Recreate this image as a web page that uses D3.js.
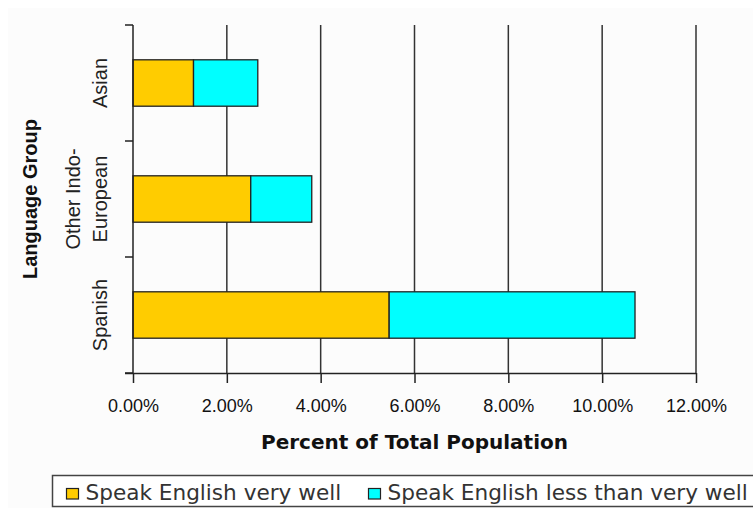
<!DOCTYPE html>
<html>
<head>
<meta charset="utf-8">
<script src="https://cdn.jsdelivr.net/npm/d3@7"></script>
<style>
  html, body { margin: 0; padding: 0; background: #fff; }
  svg { display: block; }
</style>
</head>
<body>
<div id="chart"></div>
<script>
const categories = ["Asian", "Other Indo-European", "Spanish"];
const categoryLines = [["Asian"], ["Other Indo-", "European"], ["Spanish"]];
const seriesNames = ["Speak English very well", "Speak English less than very well"];
const veryWell = [0.0129, 0.0251, 0.0546];
const lessThanVeryWell = [0.0137, 0.0130, 0.0524];
const xTicks = [0, 0.02, 0.04, 0.06, 0.08, 0.10, 0.12];
const colors = ["#ffcc00", "#00ffff"];

const width = 753, height = 508;
const margin = { top: 25, right: 57, bottom: 135, left: 133 };
const innerW = width - margin.left - margin.right;
const innerH = height - margin.top - margin.bottom;
const sansFont = '"DejaVu Sans", Verdana, sans-serif';
const arialFont = 'Arial, "Liberation Sans", sans-serif';

const svg = d3.select('#chart').append('svg')
  .attr('width', width).attr('height', height);

svg.append('rect').attr('x', 8).attr('y', 8)
  .attr('width', width - 8).attr('height', height - 8).attr('fill', '#fcfcfc');

const g = svg.append('g').attr('transform', `translate(${margin.left},${margin.top})`);

const x = d3.scaleLinear().domain([0, 0.12]).range([0, innerW]);
const y = d3.scaleBand().domain(categories).range([0, innerH])
  .paddingInner(0.6).paddingOuter(0.3);

const rows = categories.map((c, i) => ({ cat: c, vals: [veryWell[i], lessThanVeryWell[i]] }));
const stack = d3.stack().keys([0, 1]).value((d, k) => d.vals[k]);
const layers = stack(rows);

// gridlines
g.append('g').selectAll('line').data(xTicks.slice(1)).join('line')
  .attr('x1', d => x(d)).attr('x2', d => x(d))
  .attr('y1', 0).attr('y2', innerH)
  .attr('stroke', '#333').attr('stroke-width', 1.5);

// bars
g.append('g').selectAll('g').data(layers).join('g')
  .attr('fill', (d, i) => colors[i])
  .selectAll('rect').data(d => d).join('rect')
  .attr('x', d => x(d[0]))
  .attr('width', d => x(d[1]) - x(d[0]))
  .attr('y', d => y(d.data.cat))
  .attr('height', y.bandwidth())
  .attr('stroke', '#222').attr('stroke-width', 1.3);

// x axis
const xAxis = g.append('g').attr('transform', `translate(0,${innerH})`)
  .call(d3.axisBottom(x).tickValues(xTicks).tickFormat(d3.format('.2%'))
    .tickSize(10).tickSizeOuter(0).tickPadding(16));
xAxis.select('.domain').attr('stroke', '#222').attr('stroke-width', 1.5)
  .attr('d', `M-8,0.5H${innerW}`);
xAxis.selectAll('.tick line').attr('stroke', '#222').attr('stroke-width', 1.5);
xAxis.selectAll('.tick text')
  .attr('font-family', arialFont)
  .attr('font-size', 18).attr('fill', '#111');

// y axis line + boundary ticks
const step = y.step();
const bounds = d3.range(categories.length + 1).map(i => i * step);
g.append('line').attr('x1', 0).attr('x2', 0).attr('y1', 0).attr('y2', innerH)
  .attr('stroke', '#222').attr('stroke-width', 1.5);
g.append('g').selectAll('line').data(bounds).join('line')
  .attr('x1', -8).attr('x2', 0).attr('y1', d => d).attr('y2', d => d)
  .attr('stroke', '#222').attr('stroke-width', 1.5);

// category labels (rotated)
const lineH = 27;
categories.forEach((c, i) => {
  const lines = categoryLines[i];
  const cy = y(c) + y.bandwidth() / 2;
  const t = g.append('text')
    .attr('transform', `translate(${-26},${cy}) rotate(-90)`)
    .attr('text-anchor', 'middle')
    .attr('font-family', arialFont)
    .attr('font-size', 20).attr('fill', '#222');
  lines.forEach((ln, j) => {
    t.append('tspan').attr('x', 0)
      .attr('y', -(lines.length - 1 - j) * lineH)
      .text(ln);
  });
});

// axis titles
svg.append('text')
  .attr('transform', `translate(37,${margin.top + innerH / 2}) rotate(-90)`)
  .attr('text-anchor', 'middle')
  .attr('font-family', arialFont)
  .attr('font-weight', 'bold').attr('font-size', 20).attr('fill', '#111')
  .text('Language Group');

svg.append('text')
  .attr('x', margin.left + innerW / 2).attr('y', 449)
  .attr('text-anchor', 'middle')
  .attr('font-family', sansFont)
  .attr('font-weight', 'bold').attr('font-size', 20).attr('fill', '#111')
  .text('Percent of Total Population');

// legend
const legend = svg.append('g');
legend.append('rect').attr('x', 52.5).attr('y', 475.5)
  .attr('width', 760).attr('height', 31)
  .attr('fill', '#fff').attr('stroke', '#444').attr('stroke-width', 1.5);
const legendX = [66, 368];
seriesNames.forEach((name, i) => {
  legend.append('rect').attr('x', legendX[i] + 0.5).attr('y', 488.5)
    .attr('width', 12).attr('height', 10.5)
    .attr('fill', colors[i]).attr('stroke', '#222').attr('stroke-width', 1.2);
  legend.append('text').attr('x', legendX[i] + 19.5).attr('y', 500)
    .attr('font-family', sansFont)
    .attr('font-size', 21.6).attr('fill', '#333')
    .text(name);
});
</script>
</body>
</html>
